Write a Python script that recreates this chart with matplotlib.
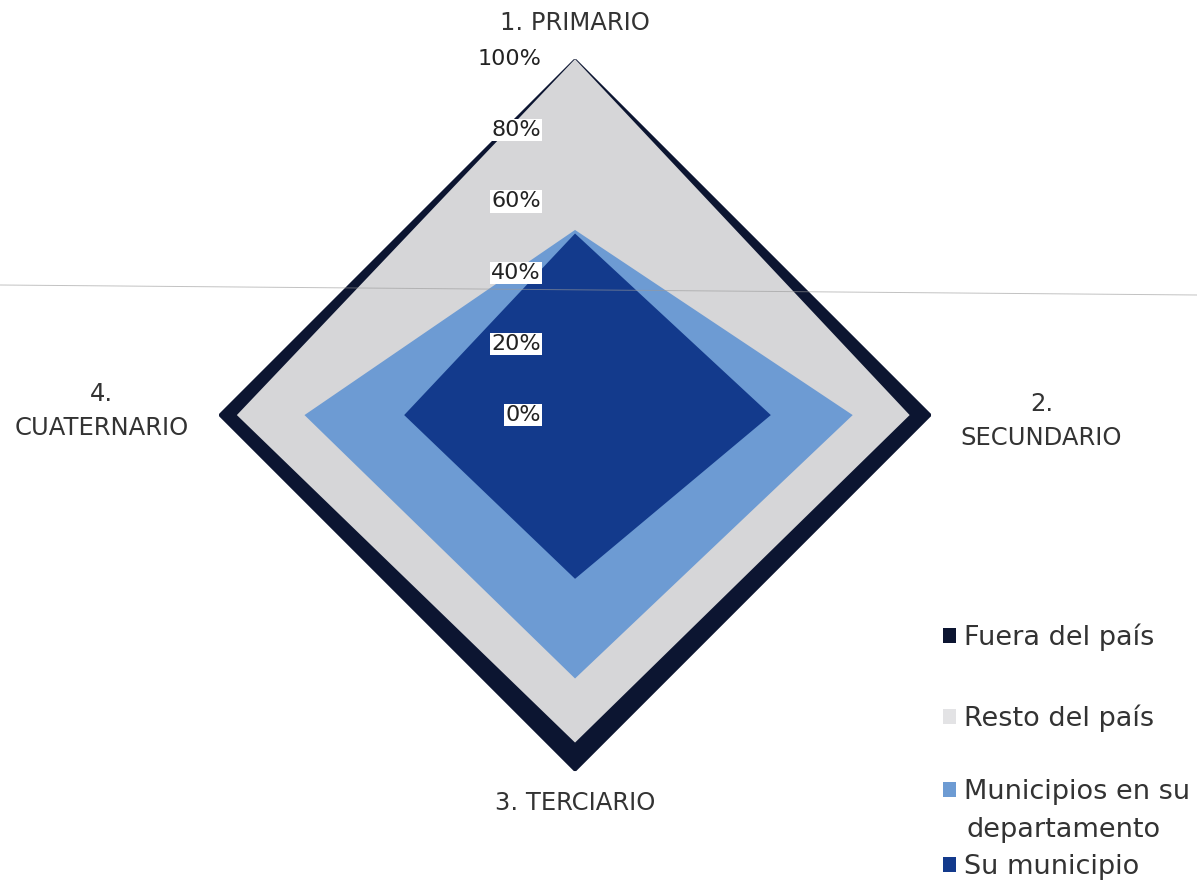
import numpy as np
import matplotlib
matplotlib.use("Agg")
import matplotlib.pyplot as plt
import matplotlib.transforms as mtransforms
from matplotlib.patches import Patch
from matplotlib.lines import Line2D

plt.rcParams['font.family'] = ['DejaVu Sans']

# --- data (share of each destination, %) ---
categories = ["1. PRIMARIO", "2.\nSECUNDARIO", "3. TERCIARIO", "4.\nCUATERNARIO"]
su_municipio = [51, 55, 46, 48]
municipios_depto = [1, 23, 28, 28]
resto_pais = [48, 16, 18, 19]
fuera_pais = [0, 6, 8, 5]
r_ticks = [0, 20, 40, 60, 80, 100]
r_tick_labels = ["0%", "20%", "40%", "60%", "80%", "100%"]

series_names = ["Su municipio", "Municipios en su", "Resto del país", "Fuera del país"]
colors = ["#133a8c", "#6d9bd3", "#d6d6d8", "#0c1531"]

stack = np.cumsum(np.array([su_municipio, municipios_depto, resto_pais, fuera_pais]), axis=0)

fig = plt.figure(figsize=(11.97, 8.91), dpi=100)
ax = fig.add_axes([0.1830, 0.1346, 0.5948, 0.7991], projection="polar")
ax.set_theta_zero_location("N")
ax.set_theta_direction(-1)

theta = np.linspace(0, 2 * np.pi, len(categories), endpoint=False)
theta_c = np.append(theta, theta[0])

# outermost first so the inner layers sit on top
for i in reversed(range(len(series_names))):
    vals = np.append(stack[i], stack[i][0])
    ec = "#0c1531" if i == 3 else "none"
    ax.fill(theta_c, vals, color=colors[i], edgecolor=ec, lw=1.2, zorder=2 + (3 - i))

ax.set_ylim(0, 100)
ax.grid(False)
ax.spines["polar"].set_visible(False)
ax.set_xticks([])
ax.set_yticks([])
ax.patch.set_alpha(0)

# radial tick labels, left of the vertical spoke
lab_tr = mtransforms.offset_copy(ax.transData, fig=fig, x=-34, y=0, units="dots")
for r, lab in zip(r_ticks, r_tick_labels):
    ax.text(0, r, lab, transform=lab_tr, ha="right", va="center", fontsize=16,
            color="#222222", zorder=10,
            bbox=dict(boxstyle="square,pad=0.05", fc="white", ec="none"))

# category labels
label_r = [110, 131, 109, 133]
label_dy = [0, -6, 0, 4]
for t, r, dy, lab in zip(theta, label_r, label_dy, categories):
    tr = mtransforms.offset_copy(ax.transData, fig=fig, x=0, y=dy, units="dots")
    ax.text(t, r, lab, transform=tr, ha="center", va="center", fontsize=17.5,
            color="#333333", linespacing=1.5, clip_on=False)

# legend, one entry per block as in the original layout
leg_y = [1 - 637 / 891, 1 - 718 / 891, 1 - 792 / 891, 1 - 867 / 891]
order = [3, 2, 1, 0]
for y, i in zip(leg_y, order):
    h = Patch(facecolor=colors[i] if i != 2 else "#e3e3e5", edgecolor="none")
    fig.legend(handles=[h], labels=[series_names[i]], loc="center left",
               bbox_to_anchor=(943 / 1197, y), frameon=False, fontsize=19.5,
               handlelength=0.47, handleheight=0.47, handletextpad=0.3,
               labelcolor="#333333", borderpad=0, borderaxespad=0)
fig.text(967 / 1197, 1 - 830 / 891, "departamento", ha="left", va="center",
         fontsize=19.5, color="#333333")

# faint scan line crossing the page
fig.add_artist(Line2D([0, 1], [1 - 285 / 891, 1 - 295 / 891], color="#999999",
                      lw=0.7, alpha=0.6, transform=fig.transFigure, zorder=20))

fig.savefig("out.png", dpi=100, facecolor="white")
